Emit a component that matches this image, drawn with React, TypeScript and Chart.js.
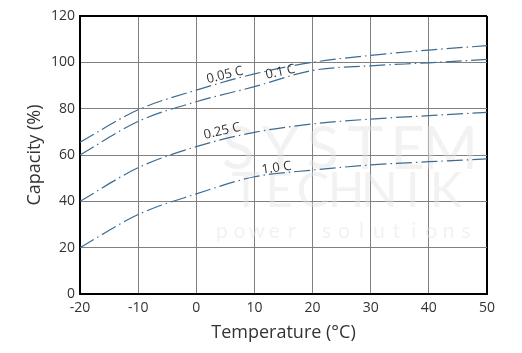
import React, { useEffect, useRef } from "react";
import { Chart, registerables } from "chart.js";

Chart.register(...registerables);

const temperatures = [-20, -10, 0, 10, 20, 30, 40, 50];
const cap005 = [65.5, 79.5, 88, 95, 100, 103, 105.3, 107.2];
const cap01 = [60, 74.5, 83, 89.5, 96.5, 98.5, 99.8, 101.3];
const cap025 = [40, 54.5, 63.6, 69.8, 73.4, 75.5, 77, 78.4];
const cap10 = [20, 34.3, 43.2, 50.6, 53.5, 55.7, 57.1, 58.3];
const seriesNames = ["0.05 C", "0.1 C", "0.25 C", "1.0 C"];
const xTicks = [-20, -10, 0, 10, 20, 30, 40, 50];
const yTicks = [0, 20, 40, 60, 80, 100, 120];

// label anchor points (data units) and rotation
const labelX = [5.1, 14.6, 4.6, 13.9];
const labelY = [92.8, 94.1, 68.6, 52.7];
const labelRot = [-14, -12, -13, -8];

const LINE = "#3d6c92";
const FONT = "'Open Sans', Lato, sans-serif";

const toPts = (ys: number[]) => temperatures.map((t, i) => ({ x: t, y: ys[i] }));

const overlay = {
  id: "overlay",
  beforeDatasetsDraw(chart: any) {
    const { ctx, chartArea } = chart;
    ctx.save();
    ctx.beginPath();
    ctx.rect(chartArea.left, chartArea.top, chartArea.right - chartArea.left, chartArea.bottom - chartArea.top);
    ctx.clip();
    ctx.fillStyle = "rgba(226,226,226,0.45)";
    ctx.textAlign = "center";
    ctx.textBaseline = "middle";
    const spread = (txt: string, x0: number, x1: number, y: number, font: string) => {
      ctx.font = font;
      const chars = txt.split("");
      const n = chars.length;
      chars.forEach((c, i) => {
        const x = x0 + ((x1 - x0) * i) / (n - 1);
        ctx.fillText(c, x, y);
      });
    };
    spread("SYSTEM", 238, 450, 150, "60px Lato, sans-serif");
    spread("TECHNIK", 246, 446, 192, "48px Lato, sans-serif");
    spread("power solutions", 222, 466, 231, "21px Lato, sans-serif");
    ctx.restore();
  },
  afterDatasetsDraw(chart: any) {
    const { ctx, scales } = chart;
    ctx.save();
    ctx.fillStyle = "#333";
    ctx.font = "13px " + FONT;
    ctx.textAlign = "center";
    ctx.textBaseline = "middle";
    seriesNames.forEach((name, i) => {
      const px = scales.x.getPixelForValue(labelX[i]);
      const py = scales.y.getPixelForValue(labelY[i]);
      ctx.save();
      ctx.translate(px, py);
      ctx.rotate((labelRot[i] * Math.PI) / 180);
      ctx.fillText(name, 0, -4);
      ctx.restore();
    });
    ctx.restore();
  },
};

export default function App() {
  const ref = useRef<HTMLCanvasElement>(null);
  useEffect(() => {
    if (!ref.current) return;
    const series = [cap005, cap01, cap025, cap10];
    const chart = new Chart(ref.current, {
      type: "line",
      data: {
        datasets: series.map((s, i) => ({
          label: seriesNames[i],
          data: toPts(s),
          borderColor: LINE,
          borderWidth: 1.2,
          borderDash: [16, 4, 1.5, 4],
          pointRadius: 0,
          fill: false,
          cubicInterpolationMode: "monotone" as const,
        })),
      },
      options: {
        responsive: false,
        animation: false,
        layout: { padding: { top: 16, right: 35, left: 0, bottom: 0 } },
        plugins: { legend: { display: false }, tooltip: { enabled: false } },
        scales: {
          x: {
            type: "linear",
            min: -20,
            max: 50,
            afterBuildTicks: (s: any) => {
              s.ticks = xTicks.map((v) => ({ value: v }));
            },
            afterFit: (s: any) => {
              s.height = 59;
            },
            ticks: {
              color: "#333",
              font: { family: FONT, size: 14 },
              padding: 6,
              maxRotation: 0,
              callback: (v: any) => String(v),
            },
            grid: {
              drawTicks: false,
              color: (c: any) => (c.tick && c.tick.value === 50 ? "#000" : "#808080"),
              lineWidth: (c: any) => (c.tick && c.tick.value === 50 ? 2 : 1),
            },
            border: { color: "#000", width: 2 },
            title: {
              display: true,
              text: "Temperature (°C)",
              color: "#333",
              font: { family: FONT, size: 18 },
              padding: { top: 0, bottom: 9 },
            },
          },
          y: {
            type: "linear",
            min: 0,
            max: 120,
            afterBuildTicks: (s: any) => {
              s.ticks = yTicks.map((v) => ({ value: v }));
            },
            afterFit: (s: any) => {
              s.width = 80;
            },
            ticks: {
              color: "#333",
              font: { family: FONT, size: 14 },
              padding: 5,
              callback: (v: any) => String(v),
            },
            grid: {
              drawTicks: false,
              color: (c: any) => (c.tick && c.tick.value === 120 ? "#000" : "#808080"),
              lineWidth: (c: any) => (c.tick && c.tick.value === 120 ? 2 : 1),
            },
            border: { color: "#000", width: 2 },
            title: {
              display: true,
              text: "Capacity (%)",
              color: "#333",
              font: { family: FONT, size: 18 },
              padding: { top: 24, bottom: 0 },
            },
          },
        },
      },
      plugins: [overlay],
    });
    return () => chart.destroy();
  }, []);
  return (
    <div style={{ position: "absolute", left: 0, top: 0, width: 522, height: 353, background: "#fff" }}>
      <canvas ref={ref} width={522} height={353} />
    </div>
  );
}
